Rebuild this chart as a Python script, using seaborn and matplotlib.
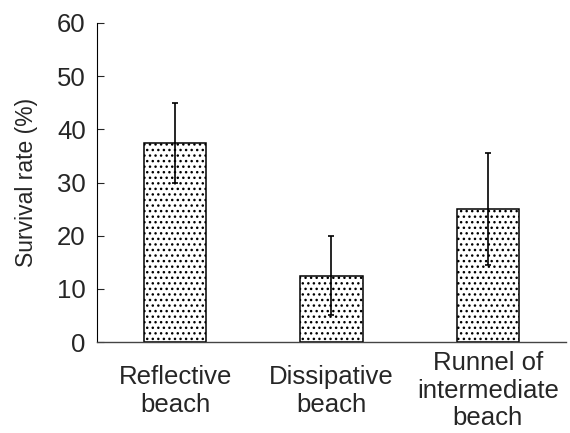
import numpy as np
import pandas as pd
import seaborn as sns
import matplotlib
matplotlib.use("Agg")
import matplotlib.pyplot as plt

habitats = ["Reflective\nbeach", "Dissipative\nbeach", "Runnel of\nintermediate\nbeach"]
survival = [37.5, 12.5, 25.0]
sd = [7.5, 7.5, 10.5]
yticks = [0, 10, 20, 30, 40, 50, 60]

df = pd.DataFrame({"habitat": habitats, "survival": survival})

sns.set_style("white")
plt.rcParams["font.family"] = ["Liberation Sans", "DejaVu Sans"]
plt.rcParams["hatch.linewidth"] = 1.0
plt.rcParams["hatch.color"] = "#444444"

fig = plt.figure(figsize=(5.7, 4.33), dpi=100)
ax = fig.add_axes([0.170, 0.210, 0.823, 0.737])

sns.barplot(data=df, x="habitat", y="survival", color="white", width=0.4,
            edgecolor="black", linewidth=1.1, ax=ax, errorbar=None)
for p in ax.patches:
    p.set_hatch("...")

ax.errorbar(np.arange(len(habitats)), survival, yerr=sd, fmt="none",
            ecolor="black", elinewidth=1.2, capsize=2.5, capthick=1.2)

ax.set_xlim(-0.5, 2.5)
ax.set_ylim(0, 60)
ax.set_yticks(yticks)
ax.set_xlabel("")
ax.set_ylabel("Survival rate (%)", fontsize=16.5, labelpad=14)
ax.tick_params(axis="y", direction="in", length=5, width=0.8, labelsize=18.5, pad=8, left=True)
ax.tick_params(axis="x", length=0, labelsize=18.5, pad=35)
for lab in ax.get_xticklabels():
    lab.set_linespacing(1.2)
    lab.set_verticalalignment("center")
sns.despine(ax=ax, top=True, right=True)
ax.spines["left"].set_color("black")
ax.spines["bottom"].set_color("#444444")
ax.spines["left"].set_linewidth(0.8)
ax.spines["bottom"].set_linewidth(1.0)

fig.savefig("out.png", dpi=100)
